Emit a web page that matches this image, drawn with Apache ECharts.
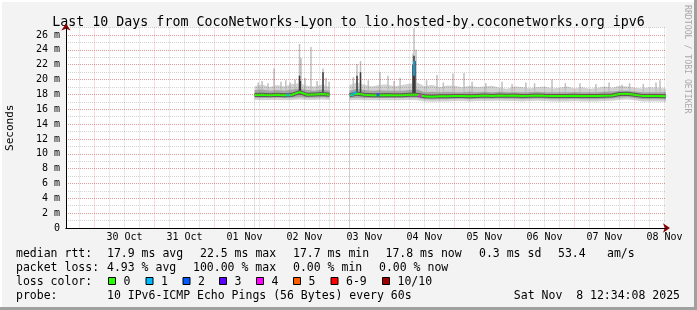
<!DOCTYPE html>
<html><head><meta charset="utf-8">
<script src="https://cdn.jsdelivr.net/npm/echarts@6/dist/echarts.min.js"></script>
<style>html,body{margin:0;padding:0;background:#f3f3f3}#c{width:697px;height:310px}</style>
</head><body><div id="c"></div>
<script>
// ===== DATA (x in hours since 2025-10-29 00:00) =====
const xStart = 12.5689;   // 2025-10-29 12:34:08
const xEnd = 252.5689;    // 2025-11-08 12:34:08
const yMax = 27;
const dayLabels = ['30 Oct','31 Oct','01 Nov','02 Nov','03 Nov','04 Nov','05 Nov','06 Nov','07 Nov','08 Nov'];
const dayLabelHours = [36,60,84,108,132,156,180,204,228,252];
const midnightHours = [24,48,72,96,120,144,168,192,216,240];
const sixHourHours = [18,30,36,42,54,60,66,78,84,90,102,108,114,126,132,138,150,156,162,174,180,186,198,204,210,222,228,234,246,252];

const smokeT = [88,91,94,97,100,103,106,109,112,115,118, 122,
  126,129,132,135,138,141,144,147,150,153,156,159,162,165,168,171,174,177,180,183,
  186,189,192,195,198,201,204,207,210,213,216,219,222,225,228,231,234,237,240,243,246,249,252.5];
const medianMs = [17.92,17.95,17.9,17.95,17.9,17.95,18.3,17.95,18.0,18.05,17.95, null,
  17.88,18.1,17.95,17.9,17.9,17.92,17.88,17.9,17.95,17.95, 17.75,17.7,17.75,17.75,17.8,17.8,17.75,17.8,17.85,17.8,
  17.85,17.82,17.85,17.8,17.82,17.85,17.82,17.8,17.78,17.8, 17.82,17.78,17.8,17.78,17.82,17.85,18.05,18.1,17.95,17.8, 17.78,17.8,17.75];
const smokeMaxMs = [19.1,19.35,19.0,19.25,19.05,19.4,19.5,19.15,19.05,19.35,19.0, null,
  19.25,19.6,19.3,19.05,19.3,19.35,19.1,19.25,19.45,19.6, 19.1,19.3,18.95,19.2,19.15,18.95,19.15,19.0,19.05,19.15,
  18.9,18.75,19.05,19.0,18.8,18.95,19.05,18.8,18.9,19.05, 18.8,18.95,18.75,18.85,19.05,18.9,19.15,19.05,18.9,18.8, 18.95,18.9,18.8];
const smokeUpperMs = [18.6,18.65,18.5,18.6,18.5,18.65,18.8,18.6,18.5,18.65,18.5, null,
  18.5,18.75,18.6,18.5,18.55,18.5,18.5,18.5,18.6,18.7, 18.3,18.35,18.3,18.35,18.3,18.3,18.35,18.3,18.35,18.3,
  18.35,18.3,18.3,18.3,18.3,18.35,18.3,18.3,18.3,18.3, 18.3,18.3,18.3,18.3,18.35,18.4,18.5,18.5,18.4,18.3, 18.3,18.3,18.3];
const smokeLowerMs = [17.55,17.5,17.55,17.55,17.5,17.55,17.6,17.55,17.55,17.6,17.55, null,
  17.5,17.55,17.5,17.5,17.5,17.5,17.5,17.5,17.55,17.55, 17.35,17.3,17.35,17.35,17.4,17.4,17.35,17.4,17.4,17.4,
  17.45,17.4,17.4,17.35,17.4,17.45,17.4,17.35,17.35,17.35, 17.4,17.35,17.35,17.35,17.4,17.45,17.55,17.6,17.5,17.35, 17.35,17.35,17.35];
const smokeMinMs = [17.25,17.2,17.25,17.25,17.2,17.25,17.3,17.25,17.25,17.3,17.25, null,
  17.2,17.25,17.2,17.2,17.2,17.2,17.2,17.2,17.25,17.2, 17.05,17.0,17.05,17.05,17.1,17.1,17.05,17.1,17.1,17.1,
  17.15,17.1,17.1,17.05,17.1,17.15,17.1,17.05,17.05,17.05, 17.1,17.05,17.05,17.05,17.1,17.15,17.25,17.3,17.2,17.05, 17.05,17.05,17.0];

// spikes: vertical strokes from spikeBaseMs up to the listed value
const spikeBaseMs = 18.0;
const spikeT  = [89.5,91.0,93.37,95.77,98.57,100.5,102.3,104.2,105.97,106.57,108.17,110.57,113.0,115.37,116.57,117.8,
  127.5,128.97,130.37,133.5,138.17,141.37,143.8,146.2,151.37,151.77,152.57,156.8,160.97,163.5,167.37,171.77,175.0,180.5,
  186.97,191.0,196.5,200.0,206.97,212.3,218.17,224.5,229.8,234.97,238.0,243.5,248.57,250.17];
const spikeMs = [19.6,19.8,19.5,21.5,19.7,19.9,19.6,20.0,24.8,22.9,20.2,24.4,19.8,21.5,20.2,19.7,
  20.3,22.1,22.5,19.9,21.0,20.5,19.8,20.2,23.5,26.9,24.0,19.9,20.6,19.6,20.8,20.9,19.7,19.5,
  19.7,19.4,19.6,19.5,20.0,19.5,19.5,19.4,19.6,19.3,19.5,19.4,19.6,19.9];
const darkSpikeT  = [105.97,106.3,115.37,128.97,130.37,151.37,151.77,152.17];
const darkSpikeMs = [20.5,  19.8, 21.0,  20.5,  21.0,  22.0,  23.2,  22.5];
const medianSpikeT = [151.77];
const medianSpikeFromMs = [20.5];
const medianSpikeMs = [22.5];
const lossT = [101.37,126.97,128.17,137.37,154.17];
const lossMs = [17.92,17.95,18.2,17.95,17.8];
const lossCount = [1,1,1,2,4];

const lossLegendLabels = ['0','1','2','3','4','5','6-9','10/10'];
const rttStats = ['17.9 ms avg','22.5 ms max','17.7 ms min','17.8 ms now','0.3 ms sd','53.4','am/s'];
const lossStats = ['4.93 % avg','100.00 % max','0.00 % min','0.00 % now'];
const probeText = '10 IPv6-ICMP Echo Pings (56 Bytes) every 60s';
const dateText = 'Sat Nov  8 12:34:08 2025';
const titleText = 'Last 10 Days from CocoNetworks-Lyon to lio.hosted-by.coconetworks.org ipv6';

// ===== STYLE =====
const FONT = 'DejaVu Sans Mono';
const lossColors = ['#26ff00','#00b8ff','#0059ff','#5e00ff','#ff00ff','#ff5e00','#ff0000','#a10000'];
const RED_GRID = 'rgba(255,0,0,0.27)';
const GRAY_GRID = 'rgba(0,0,0,0.17)';
const pair = (ts, vs) => ts.map((t, i) => [t, vs[i]]);
const strokes = (ts, from, to) => {
  const out = [];
  ts.forEach((t, i) => { out.push([t, Array.isArray(from) ? from[i] : from], [t, to[i]], [t, null]); });
  return out;
};

const chart = echarts.init(document.getElementById('c'), null, {renderer:'canvas', width:697, height:310});
const baseX = {type:'value', min:xStart, max:xEnd, gridIndex:0, position:'bottom'};
const areaSeries = (vals, color, z) => ({
  type:'line', z:z, xAxisIndex:2, yAxisIndex:0, data:pair(smokeT, vals), symbol:'none', showSymbol:false,
  lineStyle:{opacity:0, width:0}, areaStyle:{color:color, opacity:1}, silent:true
});
const strokeSeries = (data, color, w, z) => ({
  type:'line', z:z, xAxisIndex:2, yAxisIndex:0, data:data, symbol:'none', showSymbol:false, connectNulls:false,
  lineStyle:{color:color, width:w, cap:'butt'}, silent:true
});

const g = [];
const TX = (x, y, text, extra) => g.push({type:'text', x:x, y:y, style:Object.assign({text:text, font:'11.5px ' + FONT, fill:'#000', textVerticalAlign:'middle'}, extra||{})});
// frame
g.push({type:'rect', shape:{x:0,y:0,width:697,height:2}, style:{fill:'#ffffff'}});
g.push({type:'rect', shape:{x:0,y:0,width:2,height:310}, style:{fill:'#ffffff'}});
g.push({type:'rect', shape:{x:0,y:307,width:697,height:3}, style:{fill:'#a0a0a0'}});
g.push({type:'rect', shape:{x:694,y:0,width:3,height:310}, style:{fill:'#a0a0a0'}});
// vertical credit
g.push({type:'text', x:687, y:5, rotation:-Math.PI/2, style:{text:'RRDTOOL / TOBI OETIKER', font:'8.2px ' + FONT, fill:'#a8a8a8', textVerticalAlign:'middle', textAlign:'left'}});
// legend rows
const rowY = [254, 268, 282, 296];
TX(16, rowY[0], 'median rtt:');
const rttX = [107,200,293,385.5,479,558,607];
rttStats.forEach((s,i) => TX(rttX[i], rowY[0], s));
TX(16, rowY[1], 'packet loss:');
const lossX = [107,193,293,379];
lossStats.forEach((s,i) => TX(lossX[i], rowY[1], s));
TX(16, rowY[2], 'loss color:');
const boxX = [108,145.5,182.5,219,256,293,330.5,382];
lossLegendLabels.forEach((s,i) => {
  g.push({type:'rect', shape:{x:boxX[i]+0.5, y:rowY[2]-4.5, width:7, height:7}, style:{fill:lossColors[i], stroke:'#000', lineWidth:1}});
  TX(boxX[i]+15.5, rowY[2], s);
});
TX(16, rowY[3], 'probe:');
TX(107, rowY[3], probeText);
TX(680, rowY[3], dateText, {textAlign:'right'});

const option = {
  backgroundColor:'#f3f3f3',
  animation:false,
  title:{text:titleText, left:'center', top:10, textStyle:{fontFamily:FONT, fontSize:13.3, fontWeight:'normal', color:'#000', lineHeight:16}},
  grid:{left:66, right:31, top:27.6, bottom:82, show:true, z:0, backgroundColor:'#ffffff', borderWidth:0, outerBoundsMode:'none', containLabel:false},
  xAxis:[
    Object.assign({}, baseX, {z:7, axisLine:{show:false}, axisLabel:{show:false}, axisTick:{show:false, customValues:sixHourHours},
      splitLine:{show:true, lineStyle:{color:GRAY_GRID, type:[1,1], width:1}}}),
    Object.assign({}, baseX, {z:7, axisLine:{show:false}, axisLabel:{show:false}, axisTick:{show:false, customValues:midnightHours},
      splitLine:{show:true, lineStyle:{color:RED_GRID, type:[1,1], width:1}}}),
    Object.assign({}, baseX, {z:9, axisLine:{show:true, onZero:false, symbol:['none','arrow'], symbolSize:[7,7], symbolOffset:[0,4], lineStyle:{color:'#8b0000', width:1}},
      axisTick:{show:false}, splitLine:{show:false},
      axisLabel:{customValues:dayLabelHours, formatter:(v) => { const i = dayLabelHours.findIndex(h => Math.abs(h - v) < 0.01); return i >= 0 ? dayLabels[i] : ''; },
        fontFamily:FONT, fontSize:10, color:'#000', margin:4, hideOverlap:false}}),
    Object.assign({}, baseX, {z:10, axisLine:{show:true, onZero:false, lineStyle:{color:'#000', width:1}}, axisTick:{show:false}, axisLabel:{show:false}, splitLine:{show:false}})
  ],
  yAxis:[
    {type:'value', min:0, max:yMax, interval:2, gridIndex:0, position:'left', z:9,
      name:'Seconds', nameLocation:'middle', nameGap:50, nameRotate:90, nameTextStyle:{fontFamily:FONT, fontSize:11, color:'#000'},
      axisLine:{show:true, onZero:false, symbol:['none','arrow'], symbolSize:[7,7], symbolOffset:[0,4], lineStyle:{color:'#8b0000', width:1}},
      axisTick:{show:false},
      axisLabel:{formatter:(v) => (v % 2 === 0 && v < yMax) ? (v === 0 ? '0' : v + ' m') : '', fontFamily:FONT, fontSize:10, color:'#000', margin:6, hideOverlap:false},
      splitLine:{show:true, showMaxLine:false, lineStyle:{color:RED_GRID, type:[1,1], width:1}}},
    {type:'value', min:0, max:yMax, interval:1, gridIndex:0, position:'left', z:7,
      axisLine:{show:false}, axisTick:{show:false}, axisLabel:{show:false},
      splitLine:{show:true, lineStyle:{color:GRAY_GRID, type:[1,1], width:1}}},
    {type:'value', min:0, max:yMax, interval:1, gridIndex:0, position:'left', z:10,
      axisLine:{show:true, onZero:false, lineStyle:{color:'#000', width:1}}, axisTick:{show:false}, axisLabel:{show:false}, splitLine:{show:false}}
  ],
  graphic:g,
  series:[
    areaSeries(smokeMaxMs, '#d2d2d2', 1),
    strokeSeries(strokes(spikeT, spikeBaseMs, spikeMs), '#c0c0c0', 1.5, 2),
    areaSeries(smokeUpperMs, '#a6a6a6', 3),
    strokeSeries(strokes(darkSpikeT, spikeBaseMs, darkSpikeMs), '#3c3c3c', 1.5, 4),
    areaSeries(smokeLowerMs, '#d2d2d2', 5),
    areaSeries(smokeMinMs, '#ffffff', 6),
    {type:'line', z:8, xAxisIndex:2, yAxisIndex:0, data:pair(smokeT, medianMs), symbol:'none', lineStyle:{color:'#5a5a5a', width:4}, silent:true},
    {type:'line', z:8, xAxisIndex:2, yAxisIndex:0, data:pair(smokeT, medianMs), symbol:'none', lineStyle:{color:lossColors[0], width:2}, silent:true},
    strokeSeries(strokes(medianSpikeT, medianSpikeFromMs, medianSpikeMs), lossColors[1], 1.5, 8),
    {type:'scatter', z:8, xAxisIndex:2, yAxisIndex:0, symbol:'rect', symbolSize:[3,3], silent:true,
      data:lossT.map((t,i) => ({value:[t, lossMs[i]], itemStyle:{color:lossColors[lossCount[i]]}}))}
  ]
};
chart.setOption(option);
</script></body></html>
